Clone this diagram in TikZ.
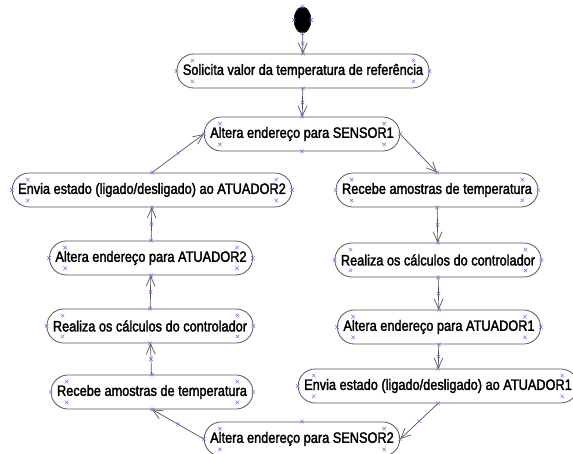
\documentclass[tikz,border=0pt]{standalone}
\usepackage{fontspec}
\setmainfont{Liberation Sans}[FakeStretch=0.85,FakeBold=2]
\usepackage{xcolor}
\definecolor{hblue}{RGB}{110,110,230}
\definecolor{lgray}{RGB}{85,85,85}
\usetikzlibrary{arrows.meta,positioning,shapes.misc,shapes.geometric,calc}

\begin{document}
\begin{tikzpicture}[x=1pt,y=-1pt,
  act/.style={draw=lgray,line width=0.8pt,rounded corners=16.9pt,minimum height=34pt,inner xsep=6pt,font=\fontsize{15}{17}\selectfont},
  flow/.style={lgray,line width=0.7pt,-{Straight Barb[length=10pt,width=9pt]}},
  hx/.style={cross out,draw=hblue,line width=0.5pt,minimum size=3pt,inner sep=0pt}]
  \useasboundingbox (0,0) rectangle (573,454);
  \node[draw,fill=black,ellipse,minimum width=17pt,minimum height=26pt,inner sep=0pt] (start) at (302.5,20) {};
  \node[act] (solicita) at (303,71) {Solicita valor da temperatura de referência};
  \node[act] (sensor1) at (302,134) {Altera endereço para SENSOR1};
  \node[act] (recebeR) at (437,190) {Recebe amostras de temperatura};
  \node[act] (realizaR) at (438,260) {Realiza os cálculos do controlador};
  \node[act] (atuador1) at (439,327) {Altera endereço para ATUADOR1};
  \node[act] (envia1) at (438,386) {Envia estado (ligado/desligado) ao ATUADOR1};
  \node[act] (sensor2) at (302,439) {Altera endereço para SENSOR2};
  \node[act] (recebeL) at (152,392) {Recebe amostras de temperatura};
  \node[act] (realizaL) at (150,326) {Realiza os cálculos do controlador};
  \node[act] (atuador2) at (151,258) {Altera endereço para ATUADOR2};
  \node[act] (envia2) at (152,190) {Envia estado (ligado/desligado) ao ATUADOR2};
  \draw[flow] (start) -- node[hx]{} (solicita);
  \draw[flow] (solicita) -- node[hx]{} (sensor1);
  \draw[flow] (sensor1.east) -- node[hx]{} (recebeR.north);
  \draw[flow] (recebeR) -- node[hx]{} (realizaR);
  \draw[flow] (realizaR) -- node[hx]{} (atuador1);
  \draw[flow] (atuador1) -- node[hx]{} (envia1);
  \draw[flow] (envia1.south) -- node[hx]{} (sensor2.east);
  \draw[flow] (sensor2.west) -- node[hx]{} (recebeL.south);
  \draw[flow] (recebeL) -- node[hx]{} (realizaL);
  \draw[flow] (realizaL) -- node[hx]{} (atuador2);
  \draw[flow] (atuador2) -- node[hx]{} (envia2);
  \draw[flow] (envia2.north) -- node[hx]{} (sensor1.west);
  \foreach \a in {north,south,east,west}
    \node[hx] at (start.\a) {};
  \foreach \n in {solicita,sensor1,recebeR,realizaR,atuador1,envia1,sensor2,recebeL,realizaL,atuador2,envia2} {
    \foreach \a in {north,south,east,west}
      \node[hx] at (\n.\a) {};
    \node[hx] at ($(\n.north west)+(16,7)$) {};
    \node[hx] at ($(\n.south west)+(16,-7)$) {};
    \node[hx] at ($(\n.north east)+(-16,7)$) {};
    \node[hx] at ($(\n.south east)+(-16,-7)$) {};
  }
\end{tikzpicture}
\end{document}
